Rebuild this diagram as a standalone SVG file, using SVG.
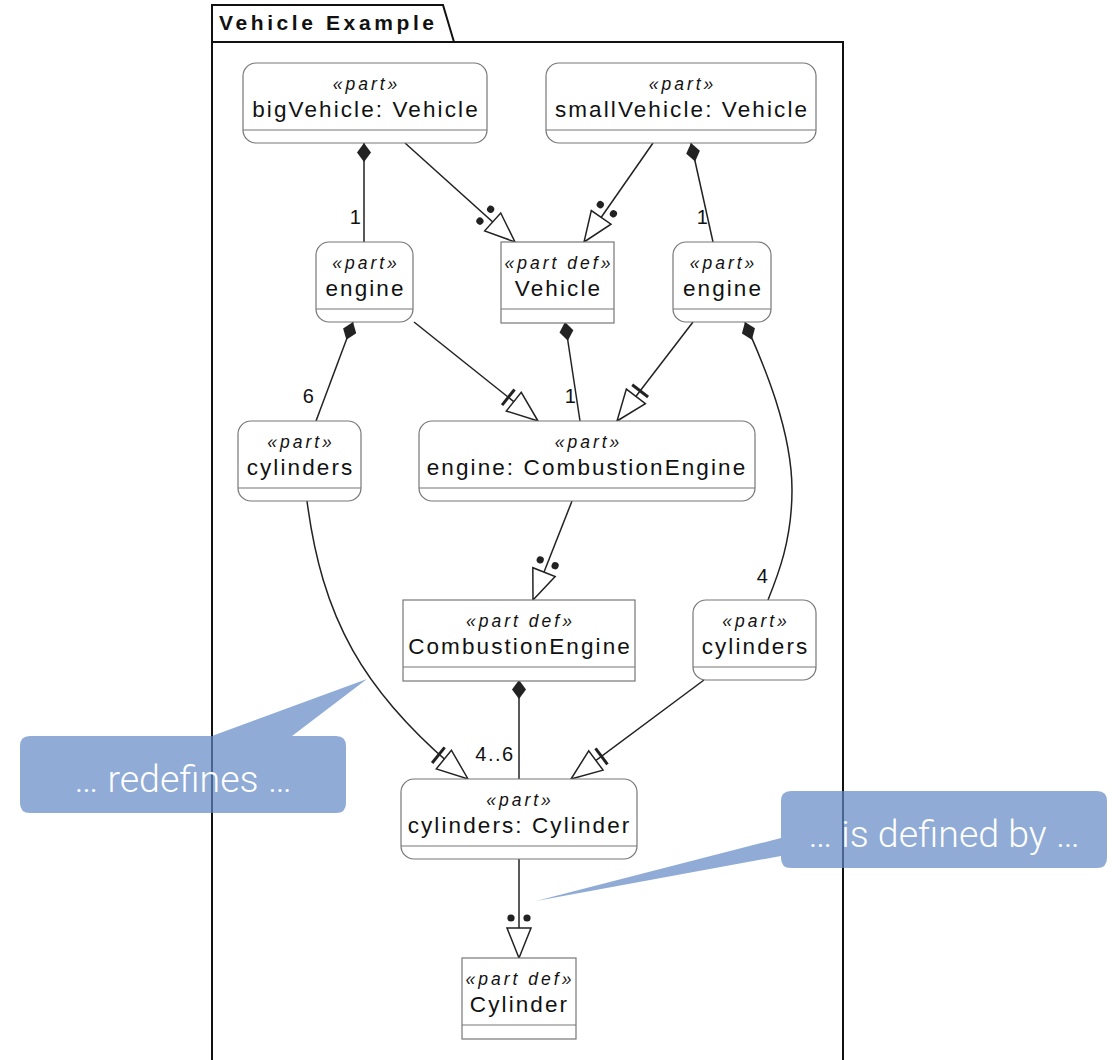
<svg xmlns="http://www.w3.org/2000/svg" width="1112" height="1060" viewBox="0 0 1112 1060">
  <style>
    .node rect { fill: #ffffff; stroke: #777777; stroke-width: 1.2; }
    .node line { stroke: #777777; stroke-width: 1.2; }
    .st { font-family: "Liberation Sans", Arial, sans-serif; font-style: italic; font-size: 17.5px; letter-spacing: 3px; fill: #111111; text-anchor: middle; }
    .nm { font-family: "Liberation Sans", Arial, sans-serif; font-size: 22.5px; letter-spacing: 2.1px; fill: #111111; text-anchor: middle; }
    .edge { fill: none; stroke: #222222; stroke-width: 1.5; }
    .mult { font-family: "Liberation Sans", Arial, sans-serif; font-size: 20px; letter-spacing: 1.5px; fill: #111111; text-anchor: middle; }
    .frame { fill: none; stroke: #111111; stroke-width: 2; }
    .title { font-family: "Liberation Sans", Arial, sans-serif; font-weight: bold; font-size: 21px; letter-spacing: 3.6px; fill: #111111; }
    .callout { fill: #5f88c4; fill-opacity: 0.7; }
    .ctext { font-family: Roboto, "Noto Sans", sans-serif; font-weight: 300; font-size: 37.5px; fill: #ffffff; text-anchor: middle; }
  </style>
  <defs>
    <!-- feature typing: open triangle with two dots -->
    <marker id="typed" markerUnits="userSpaceOnUse" orient="auto" viewBox="-50 -20 60 40" markerWidth="60" markerHeight="40" refX="0" refY="0" overflow="visible">
      <polygon points="0,0 -30,-12 -30,12" fill="#ffffff" stroke="#222222" stroke-width="1.5" stroke-linejoin="miter"/>
      <circle cx="-40" cy="-8" r="3.6" fill="#222222"/>
      <circle cx="-40" cy="8" r="3.6" fill="#222222"/>
    </marker>
    <!-- redefinition: open triangle with a bar -->
    <marker id="redef" markerUnits="userSpaceOnUse" orient="auto" viewBox="-50 -20 60 40" markerWidth="60" markerHeight="40" refX="0" refY="0" overflow="visible">
      <polygon points="0,0 -31,-12 -31,12" fill="#ffffff" stroke="#222222" stroke-width="1.5"/>
      <line x1="-38" y1="-10" x2="-38" y2="10" stroke="#222222" stroke-width="3"/>
    </marker>
    <!-- composition: filled diamond at the owner -->
    <marker id="comp" markerUnits="userSpaceOnUse" orient="auto" viewBox="-5 -10 30 20" markerWidth="30" markerHeight="20" refX="0" refY="0" overflow="visible">
      <polygon points="0,0 9.5,-7 19,0 9.5,7" fill="#222222"/>
    </marker>
  </defs>

  <!-- package frame with tab -->
  <g id="frame">
    <path class="frame" d="M212,1062 L212,5 L443,5 L454,42 M212,42 L843,42 L843,1062"/>
    <text class="title" x="219" y="30">Vehicle Example</text>
  </g>

  <!-- connectors -->
  <g id="connectors">
    <!-- compositions -->
    <path class="edge" d="M364,143 L364,242" marker-start="url(#comp)"/>
    <path class="edge" d="M691,143 L713,242" marker-start="url(#comp)"/>
    <path class="edge" d="M353,322 L316,421" marker-start="url(#comp)"/>
    <path class="edge" d="M565,322 L580,421" marker-start="url(#comp)"/>
    <path class="edge" d="M745,322 C752,340 792,420 792,490 C792,540 778,575 768,600" marker-start="url(#comp)"/>
    <path class="edge" d="M519,680 L519,779" marker-start="url(#comp)"/>
    <!-- feature typing -->
    <path class="edge" d="M405,143 L515,242" marker-end="url(#typed)"/>
    <path class="edge" d="M653,143 L584,242" marker-end="url(#typed)"/>
    <path class="edge" d="M572,501 L533,600" marker-end="url(#typed)"/>
    <path class="edge" d="M519,859 L519,958" marker-end="url(#typed)"/>
    <!-- redefinitions -->
    <path class="edge" d="M414,322 L538,421" marker-end="url(#redef)"/>
    <path class="edge" d="M693,322 L617,421" marker-end="url(#redef)"/>
    <path class="edge" d="M307,501 C322,615 360,692 468,779" marker-end="url(#redef)"/>
    <path class="edge" d="M704,680 L571,779" marker-end="url(#redef)"/>
    <!-- multiplicities -->
    <text class="mult" x="356" y="224">1</text>
    <text class="mult" x="703" y="224">1</text>
    <text class="mult" x="309" y="403">6</text>
    <text class="mult" x="571" y="403">1</text>
    <text class="mult" x="763" y="583">4</text>
    <text class="mult" x="495" y="761">4..6</text>
  </g>

  <g id="bigVehicle" class="node">
    <rect x="243" y="63" width="244" height="80" rx="13"/>
    <line x1="243" y1="130" x2="487" y2="130"/>
    <text class="st" x="366.5" y="90">«part»</text>
    <text class="nm" x="366" y="117">bigVehicle: Vehicle</text>
  </g>

  <g id="smallVehicle" class="node">
    <rect x="546" y="63" width="270" height="80" rx="13"/>
    <line x1="546" y1="130" x2="816" y2="130"/>
    <text class="st" x="682.5" y="90">«part»</text>
    <text class="nm" x="682" y="117">smallVehicle: Vehicle</text>
  </g>

  <g id="engineLeft" class="node">
    <rect x="316" y="242" width="97" height="80" rx="13"/>
    <line x1="316" y1="309" x2="413" y2="309"/>
    <text class="st" x="366" y="269">«part»</text>
    <text class="nm" x="365.5" y="296">engine</text>
  </g>

  <g id="VehicleDef" class="node">
    <rect x="501" y="242" width="113" height="81"/>
    <line x1="501" y1="309" x2="614" y2="309"/>
    <text class="st" x="559" y="269">«part def»</text>
    <text class="nm" x="558.5" y="296">Vehicle</text>
  </g>

  <g id="engineRight" class="node">
    <rect x="673" y="242" width="98" height="80" rx="13"/>
    <line x1="673" y1="309" x2="771" y2="309"/>
    <text class="st" x="723.5" y="269">«part»</text>
    <text class="nm" x="723" y="296">engine</text>
  </g>

  <g id="cylindersLeft" class="node">
    <rect x="238" y="421" width="123" height="80" rx="13"/>
    <line x1="238" y1="488" x2="361" y2="488"/>
    <text class="st" x="301" y="448">«part»</text>
    <text class="nm" x="300.5" y="475">cylinders</text>
  </g>

  <g id="engineCombustion" class="node">
    <rect x="419" y="421" width="336" height="80" rx="13"/>
    <line x1="419" y1="488" x2="755" y2="488"/>
    <text class="st" x="588.5" y="448">«part»</text>
    <text class="nm" x="587" y="475">engine: CombustionEngine</text>
  </g>

  <g id="CombustionEngineDef" class="node">
    <rect x="403" y="600" width="232" height="81"/>
    <line x1="403" y1="667" x2="635" y2="667"/>
    <text class="st" x="520.5" y="627">«part def»</text>
    <text class="nm" x="520" y="654">CombustionEngine</text>
  </g>

  <g id="cylindersRight" class="node">
    <rect x="693" y="600" width="123" height="80" rx="13"/>
    <line x1="693" y1="667" x2="816" y2="667"/>
    <text class="st" x="756" y="627">«part»</text>
    <text class="nm" x="755.5" y="654">cylinders</text>
  </g>

  <g id="cylindersCylinder" class="node">
    <rect x="401" y="779" width="236" height="80" rx="13"/>
    <line x1="401" y1="846" x2="637" y2="846"/>
    <text class="st" x="520" y="806">«part»</text>
    <text class="nm" x="519.5" y="833">cylinders: Cylinder</text>
  </g>

  <g id="CylinderDef" class="node">
    <rect x="462" y="958" width="114" height="81"/>
    <line x1="462" y1="1025" x2="576" y2="1025"/>
    <text class="st" x="520" y="985">«part def»</text>
    <text class="nm" x="519.5" y="1012">Cylinder</text>
  </g>

  <!-- explanatory callouts -->
  <g id="calloutRedefines">
    <path class="callout" d="M30,736 L212,736 L367,679 L292,736 L336,736 Q346,736 346,746 L346,803 Q346,813 336,813 L30,813 Q20,813 20,803 L20,746 Q20,736 30,736 Z"/>
    <text class="ctext" x="183" y="792">… redefines …</text>
  </g>

  <g id="calloutDefinedBy">
    <path class="callout" d="M791,791 L1097,791 Q1107,791 1107,801 L1107,858 Q1107,868 1097,868 L791,868 Q781,868 781,858 L781,856 L536,901 L781,838 L781,801 Q781,791 791,791 Z"/>
    <text class="ctext" x="944" y="847">… is defined by …</text>
  </g>
</svg>
